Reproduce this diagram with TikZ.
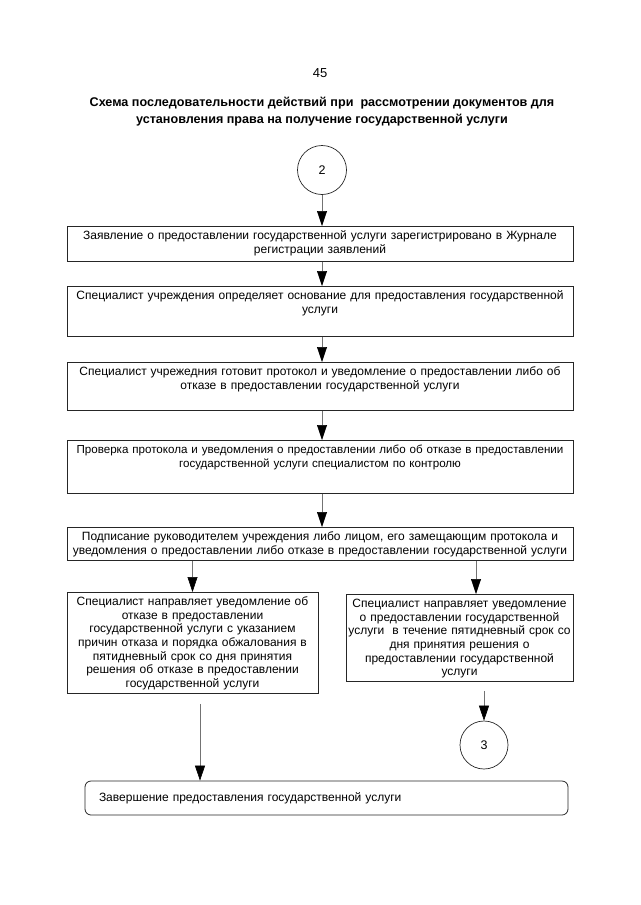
\documentclass[tikz,border=0pt]{standalone}
\usepackage{fontspec}
\setmainfont{Liberation Sans}
\usetikzlibrary{arrows.meta}
\colorlet{box edge}{black!85}
\colorlet{link line}{black!55}
\tikzset{stepbox/.style={draw=box edge, line width=0.8pt, anchor=north, align=center,
      inner xsep=0pt, inner ysep=4pt, text height=9pt,
      font=\fontsize{12}{13.7}\selectfont},
    widebox/.style={stepbox, text width=506pt},
    endbox/.style={draw=box edge, line width=0.8pt, rounded corners=6pt, align=left,
      minimum height=34pt, text width=455pt, inner xsep=14pt,
      font=\fontsize{12}{13.7}\selectfont},
    connector/.style={circle, draw=box edge, line width=0.7pt, inner sep=0pt,
      font=\fontsize{12.5}{14}\selectfont},
    link/.style={draw=link line, line width=0.6pt,
      -{Triangle[width=10pt,length=15pt,color=black]}}}

\begin{document}
\begin{tikzpicture}[x=1pt,y=-1pt]
    \useasboundingbox (0,0) rectangle (640,905);
    \node[font=\fontsize{13}{15}\selectfont] (page) at (320,73) {45};
    \node[font=\bfseries\fontsize{12.6}{17}\selectfont, align=center] (title) at (322,112)
      {Схема последовательности действий при\ \ рассмотрении документов для\\
       установления права на получение государственной услуги};

    \node[connector, minimum size=49pt] (c2) at (322,170) {2};
    \node[widebox, text depth=18pt] (b1) at (320,226)
      {Заявление о предоставлении государственной услуги зарегистрировано в Журнале\\
       регистрации заявлений};
    \node[widebox, text depth=33pt] (b2) at (320,286)
      {Специалист учреждения определяет основание для предоставления государственной\\
       услуги};
    \node[widebox, text depth=31pt] (b3) at (320,362)
      {Специалист учрежедния готовит протокол и уведомление о предоставлении либо об\\
       отказе в предоставлении государственной услуги};
    \node[widebox, text depth=36pt, font=\fontsize{11.6}{13.7}\selectfont] (b4) at (320,440)
      {Проверка протокола и уведомления о предоставлении либо об отказе в предоставлении\\
       государственной услуги специалистом по контролю};
    \node[widebox, text depth=16pt] (b5) at (320,527)
      {Подписание руководителем учреждения либо лицом, его замещающим протокола и\\
       уведомления о предоставлении либо отказе в предоставлении государственной услуги};
    \node[stepbox, text width=251pt, text depth=84pt] (b6) at (192.5,592)
      {Специалист направляет уведомление об\\ отказе в предоставлении\\
       государственной услуги с указанием\\ причин отказа и порядка обжалования в\\
       пятидневный срок со дня принятия\\ решения об отказе в предоставлении\\
       государственной услуги};
    \node[stepbox, text width=227pt, text depth=70pt] (b7) at (459.5,594)
      {Специалист направляет уведомление\\ о предоставлении государственной\\
       услуги\ \ в течение пятидневный срок со\\ дня принятия решения о\\
       предоставлении государственной\\ услуги};
    \node[connector, minimum size=48pt] (c3) at (484,745) {3};
    \node[endbox] (b8) at (326.5,798) {Завершение предоставления государственной услуги};

    \coordinate (right) at (476,0);
    \coordinate (left) at (200,0);
    \draw[link] (c2.south) -- (c2.south |- b1.north);
    \draw[link] (b1.south -| c2) -- (b2.north -| c2);
    \draw[link] (b2.south -| c2) -- (b3.north -| c2);
    \draw[link] (b3.south -| c2) -- (b4.north -| c2);
    \draw[link] (b4.south -| c2) -- (b5.north -| c2);
    \draw[link] (b5.south -| b6.north) -- (b6.north);
    \draw[link] (b5.south -| right) -- (b7.north -| right);
    \draw[link, shorten <=9pt] (c3.north |- b7.south) -- (c3.north);
    \draw[link, shorten <=10pt] (b6.south -| left) -- (b8.north -| left);
\end{tikzpicture}
\end{document}
